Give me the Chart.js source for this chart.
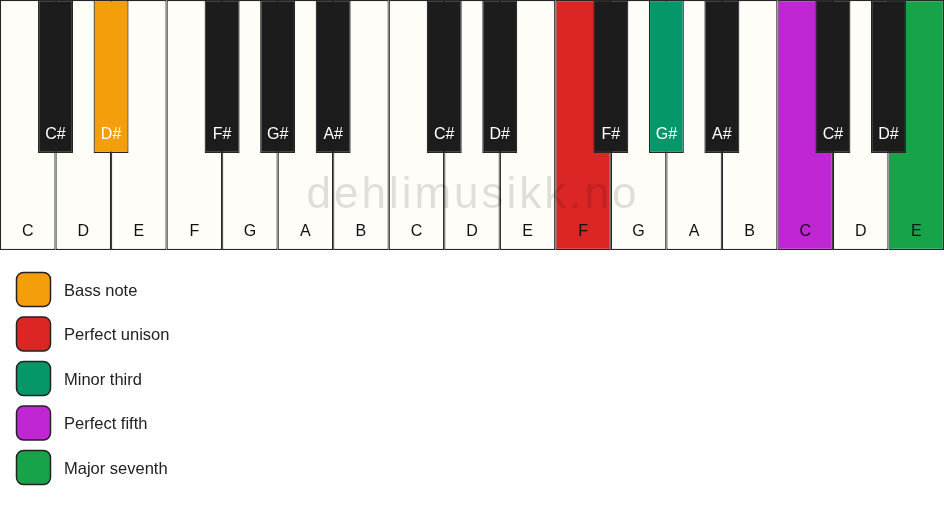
<!DOCTYPE html>
<html>
<head>
<meta charset="utf-8">
<title>Piano chord</title>
<script src="https://cdn.jsdelivr.net/npm/chart.js@4.4.1/dist/chart.umd.min.js"></script>
<style>
  html, body { margin: 0; padding: 0; background: #ffffff; }
  #wrap { width: 944px; height: 506px; position: relative; }
</style>
</head>
<body>
<div id="wrap"><canvas id="pianoChart"></canvas></div>
<script>
// keyboard data
const whiteNotes = ['C', 'D', 'E', 'F', 'G', 'A', 'B', 'C', 'D', 'E', 'F', 'G', 'A', 'B', 'C', 'D', 'E'];
const blackNotes = ['C#', 'D#', 'F#', 'G#', 'A#', 'C#', 'D#', 'F#', 'G#', 'A#', 'C#', 'D#'];
// black key sits on the boundary after this many white keys
const blackSlots = [1, 2, 4, 5, 6, 8, 9, 11, 12, 13, 15, 16];

// which chord role each key plays (null = not in chord)
const whiteRoles = [null, null, null, null, null, null, null, null, null, null,
  'Perfect unison', null, null, null, 'Perfect fifth', null, 'Major seventh'];
const blackRoles = [null, 'Bass note', null, null, null, null, null, null, 'Minor third', null, null, null];

const legendLabels = ['Bass note', 'Perfect unison', 'Minor third', 'Perfect fifth', 'Major seventh'];
const legendColors = ['#f49e0c', '#dc2626', '#05976a', '#c026d3', '#16a34a'];

const watermarkText = 'dehlimusikk.no';

const whiteFill = '#fffdf8';
const blackFill = '#1c1c1c';
const keyBorder = '#262626';
const blackKeyTop = 0.388; // black keys cover the upper part of the keyboard

function roleColor(role, fallback) {
  if (!role) return fallback;
  return legendColors[legendLabels.indexOf(role)];
}

const whiteData = whiteNotes.map((n, i) => ({ x: i + 0.5, y: [0, 1] }));
const blackData = blackSlots.map(s => ({ x: s, y: [blackKeyTop, 1] }));

const keyLabels = {
  id: 'keyLabels',
  afterDatasetsDraw(chart) {
    const ctx = chart.ctx;
    const yScale = chart.scales.y;
    ctx.save();
    ctx.font = '16px "Liberation Sans", Arial, sans-serif';
    ctx.textAlign = 'center';
    ctx.textBaseline = 'middle';

    const whiteMeta = chart.getDatasetMeta(1);
    whiteMeta.data.forEach((bar, i) => {
      ctx.fillStyle = '#111111';
      ctx.fillText(whiteNotes[i], bar.x, yScale.getPixelForValue(0.072));
    });

    const blackMeta = chart.getDatasetMeta(0);
    blackMeta.data.forEach((bar, i) => {
      ctx.fillStyle = '#ffffff';
      ctx.fillText(blackNotes[i], bar.x, yScale.getPixelForValue(0.46));
    });

    // watermark
    const area = chart.chartArea;
    ctx.font = '44px "Liberation Sans", Arial, sans-serif';
    ctx.letterSpacing = '3px';
    ctx.fillStyle = 'rgba(0, 0, 0, 0.12)';
    ctx.textBaseline = 'alphabetic';
    ctx.fillText(watermarkText, (area.left + area.right) / 2 + 1, yScale.getPixelForValue(0.168));
    ctx.restore();
  }
};

const chordLegend = {
  id: 'chordLegend',
  afterDraw(chart) {
    const ctx = chart.ctx;
    const top = chart.chartArea.bottom + 22;
    const box = 34;
    const step = 44.5;
    ctx.save();
    ctx.font = '16.5px "Liberation Sans", Arial, sans-serif';
    ctx.textBaseline = 'middle';
    ctx.textAlign = 'left';
    legendLabels.forEach((label, i) => {
      const y = top + i * step;
      ctx.beginPath();
      ctx.roundRect(16.5, y + 0.5, box, box, 7);
      ctx.fillStyle = legendColors[i];
      ctx.fill();
      ctx.lineWidth = 1.5;
      ctx.strokeStyle = '#222222';
      ctx.stroke();
      ctx.fillStyle = '#222222';
      ctx.fillText(label, 64, y + box / 2 + 2);
    });
    ctx.restore();
  }
};

const ctx = document.getElementById('pianoChart').getContext('2d');

const pianoChart = new Chart(ctx, {
  type: 'bar',
  data: {
    datasets: [
      {
        label: 'Black keys',
        data: blackData,
        xAxisID: 'x2',
        backgroundColor: blackRoles.map(r => roleColor(r, blackFill)),
        borderColor: keyBorder,
        borderWidth: 1.2,
        borderSkipped: false,
        inflateAmount: 0,
        grouped: false,
        barPercentage: 0.63,
        categoryPercentage: 1,
        order: 1
      },
      {
        label: 'White keys',
        data: whiteData,
        xAxisID: 'x',
        backgroundColor: whiteRoles.map(r => roleColor(r, whiteFill)),
        borderColor: keyBorder,
        borderWidth: 1.2,
        borderSkipped: false,
        inflateAmount: 0,
        grouped: false,
        barPercentage: 1,
        categoryPercentage: 1,
        order: 2
      }
    ]
  },
  options: {
    responsive: true,
    maintainAspectRatio: false,
    animation: false,
    events: [],
    layout: { padding: { top: 0, left: 0, right: 0, bottom: 256 } },
    scales: {
      x: {
        type: 'linear',
        min: 0,
        max: whiteNotes.length,
        offset: false,
        display: false,
        ticks: { stepSize: 1 }
      },
      x2: {
        type: 'linear',
        min: 0,
        max: whiteNotes.length,
        offset: false,
        display: false,
        ticks: { stepSize: 1 }
      },
      y: {
        min: 0,
        max: 1,
        display: false
      }
    },
    plugins: {
      legend: { display: false },
      tooltip: { enabled: false }
    }
  },
  plugins: [keyLabels, chordLegend]
});
</script>
</body>
</html>
